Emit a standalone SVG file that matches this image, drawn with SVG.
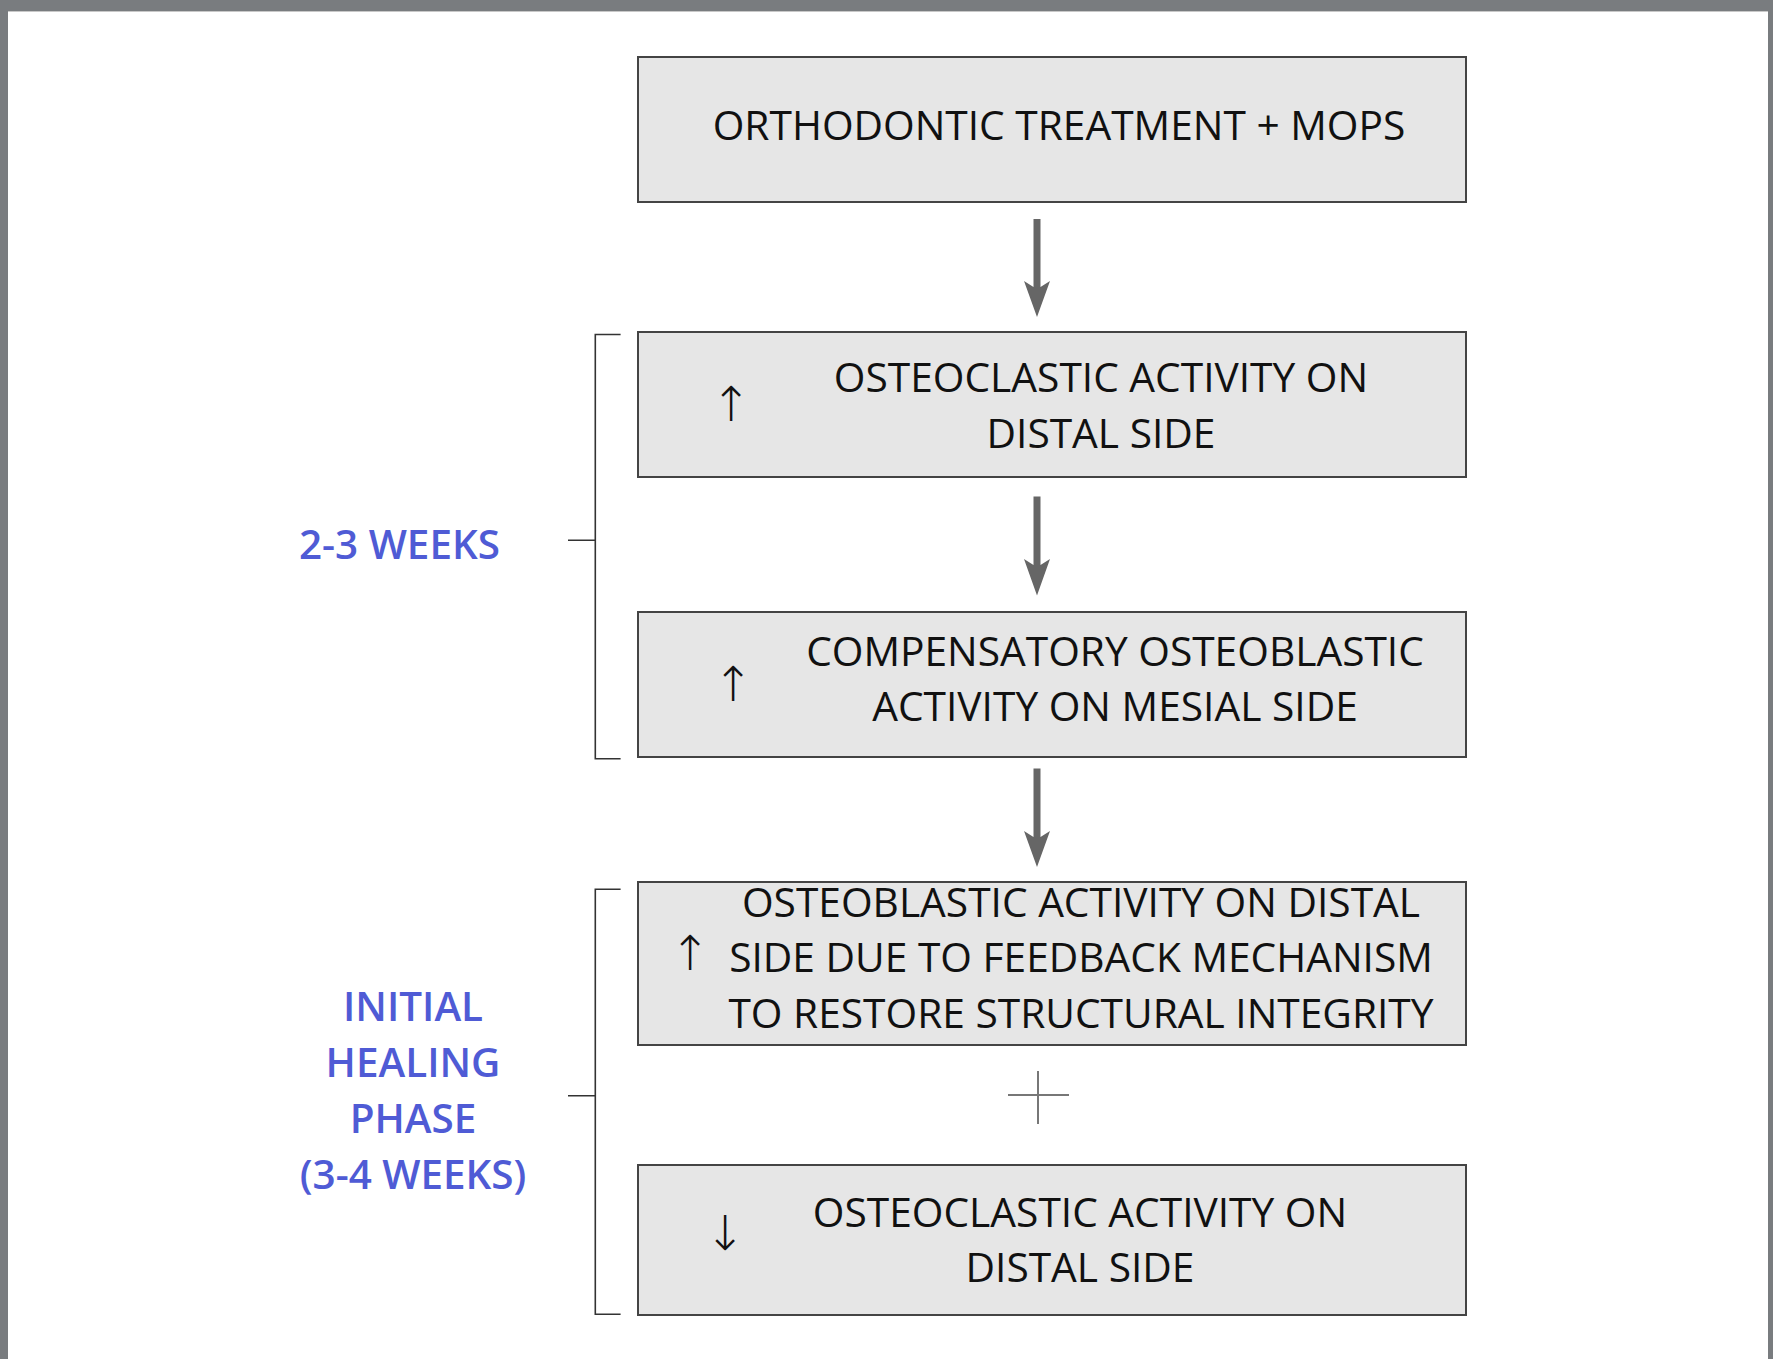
<svg xmlns="http://www.w3.org/2000/svg" width="1773" height="1359" viewBox="0 0 1773 1359">
<style>
.box{fill:#e6e6e6;stroke:#444;stroke-width:2}
.t{font-family:"Open Sans","Noto Sans","DejaVu Sans",sans-serif;font-size:40.7px;fill:#111;text-anchor:middle}
.ar{font-family:"DejaVu Sans","Noto Sans",sans-serif;font-size:48px;font-weight:200;fill:#111;text-anchor:middle}
.lbl{font-family:"Open Sans","Noto Sans",sans-serif;font-size:40.4px;font-weight:600;fill:#4f5bd5}
.br{fill:none;stroke:#333;stroke-width:1.6}
.conn{fill:#666}
</style>
<rect x="0" y="0" width="1773" height="1359" fill="#ffffff"/>
<rect x="0" y="0" width="1773" height="11" fill="#797c7f"/>
<rect x="0" y="0" width="8" height="1359" fill="#797c7f"/>
<rect x="1768" y="0" width="5" height="1359" fill="#797c7f"/>
<rect x="8" y="11" width="1760" height="1" fill="#c8c8c8"/>

<g id="node-start">
<rect class="box" x="638" y="57" width="828" height="145"/>
<text class="t" x="1059" y="140">ORTHODONTIC TREATMENT + MOPS</text>
</g>
<g id="node-osteoclastic-up">
<rect class="box" x="638" y="332" width="828" height="145"/>
<text class="ar" x="731" y="421">↑</text>
<text class="t" x="1101" y="391.5">OSTEOCLASTIC ACTIVITY ON</text>
<text class="t" x="1101" y="447.5">DISTAL SIDE</text>
</g>
<g id="node-compensatory">
<rect class="box" x="638" y="612" width="828" height="145"/>
<text class="ar" x="733" y="701">↑</text>
<text class="t" x="1115" y="665.5">COMPENSATORY OSTEOBLASTIC</text>
<text class="t" x="1115" y="721">ACTIVITY ON MESIAL SIDE</text>
</g>
<g id="node-osteoblastic-distal">
<rect class="box" x="638" y="882" width="828" height="163"/>
<text class="ar" x="690" y="970">↑</text>
<text class="t" x="1081" y="916.5">OSTEOBLASTIC ACTIVITY ON DISTAL</text>
<text class="t" x="1081" y="972.3">SIDE DUE TO FEEDBACK MECHANISM</text>
<text class="t" x="1081" y="1028.3">TO RESTORE STRUCTURAL INTEGRITY</text>
</g>
<g id="node-osteoclastic-down">
<rect class="box" x="638" y="1165" width="828" height="150"/>
<text class="ar" x="725" y="1250">↓</text>
<text class="t" x="1080" y="1226.7">OSTEOCLASTIC ACTIVITY ON</text>
<text class="t" x="1080" y="1282.4">DISTAL SIDE</text>
</g>
<g id="plus">
<line x1="1008" y1="1095" x2="1069" y2="1095" stroke="#777" stroke-width="2"/>
<line x1="1038" y1="1071" x2="1038" y2="1124" stroke="#777" stroke-width="2"/>
</g>

<g id="label-2-3-weeks">
<text class="lbl" x="299" y="559.3">2-3 WEEKS</text>
</g>
<g id="label-initial-healing">
<text class="lbl" x="413" y="1020.7" text-anchor="middle">INITIAL</text>
<text class="lbl" x="413" y="1076.7" text-anchor="middle">HEALING</text>
<text class="lbl" x="413" y="1132.7" text-anchor="middle">PHASE</text>
<text class="lbl" x="413" y="1188.7" text-anchor="middle">(3-4 WEEKS)</text>
</g>

<g id="brackets">
<path class="br" d="M620.6 334.5 H595.3 V758.7 H620.6 M568 540.3 H595.3"/>
<path class="br" d="M620.6 889.3 H595.3 V1314.3 H620.6 M568 1095.7 H595.3"/>
</g>

<g id="connectors">
<path class="conn" d="M1033.5 219 H1040.5 V287 L1050 281 L1037 317 L1024 281 L1033.5 287 Z"/>
<path class="conn" d="M1033.5 496.5 H1040.5 V565 L1050 559 L1037 595.5 L1024 559 L1033.5 565 Z"/>
<path class="conn" d="M1033.5 768.5 H1040.5 V837 L1050 831 L1037 867 L1024 831 L1033.5 837 Z"/>
</g>
</svg>
